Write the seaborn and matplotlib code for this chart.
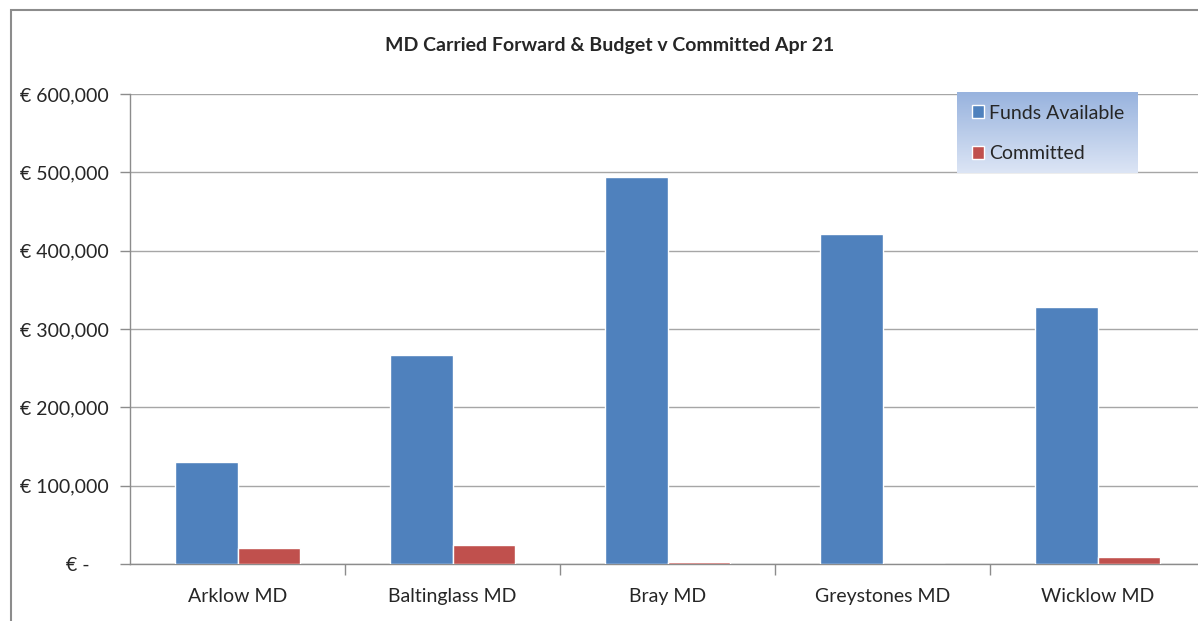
import seaborn as sns
import matplotlib.pyplot as plt
import numpy as np
import pandas as pd
from matplotlib.patches import Rectangle
from matplotlib.colors import LinearSegmentedColormap

districts = ['Arklow MD', 'Baltinglass MD', 'Bray MD', 'Greystones MD', 'Wicklow MD']
funds_available = [130200, 266800, 494000, 421300, 328000]
committed = [20400, 24300, 3000, 0, 8500]
series = ['Funds Available', 'Committed']

df = pd.DataFrame({
    'district': districts * 2,
    'series': [series[0]] * 5 + [series[1]] * 5,
    'value': funds_available + committed,
})

sns.set_style('white')
plt.rcParams['font.family'] = ['Lato', 'DejaVu Sans']

fig = plt.figure(figsize=(11.98, 6.21), dpi=100)
ax = fig.add_axes([130 / 1198, 57 / 621, 1075 / 1198, 470 / 621])

sns.barplot(data=df, x='district', y='value', hue='series',
            palette=['#4f81bd', '#c0504d'], width=0.58, ax=ax,
            saturation=1, errorbar=None, zorder=3)

ax.set_ylim(0, 600000)
ax.set_xlim(-0.5, 4.5)
ax.set_yticks(range(0, 600001, 100000))
ax.set_yticklabels(['€ -    '] + ['€ {:,.0f}'.format(v) for v in range(100000, 600001, 100000)],
                   fontsize=14)
ax.set_xticklabels(districts, fontsize=14)
ax.tick_params(axis='x', length=0, pad=17)
ax.set_xticks([0.5, 1.5, 2.5, 3.5], minor=True)
ax.tick_params(axis='x', which='minor', length=8, color='#8c8c8c', width=1, direction='out', bottom=True)
ax.tick_params(axis='y', length=7, color='#8c8c8c', width=1, direction='out', left=True, pad=8)
ax.grid(axis='y', color='#a6a6a6', linewidth=1, zorder=0)
ax.set_xlabel('')
ax.set_ylabel('')
sns.despine(ax=ax, top=True, right=True)
for s in ['left', 'bottom']:
    ax.spines[s].set_color('#8c8c8c')
    ax.spines[s].set_linewidth(1)

handles, labels = ax.get_legend_handles_labels()
ax.get_legend().remove()

# gradient background behind the legend
gax = fig.add_axes([957 / 1198, 1 - 173 / 621, 181 / 1198, 81 / 621])
cmap = LinearSegmentedColormap.from_list('leg', ['#98b3de', '#dce5f5'])
gax.imshow(np.linspace(0, 1, 100).reshape(-1, 1), aspect='auto', cmap=cmap)
gax.axis('off')

fig.legend(handles, labels, loc='upper left', bbox_to_anchor=(956 / 1198, 1 - 89 / 621),
           fontsize=14, frameon=False, handlelength=0.65, handleheight=0.65,
           handletextpad=0.25, labelspacing=1.2, borderpad=0.3)

fig.text(610 / 1198, 1 - 45 / 621, 'MD Carried Forward & Budget v Committed Apr 21',
         ha='center', va='center', fontsize=14, fontweight='bold')

fig.patches.append(Rectangle((11 / 1198, -0.1), 1.2, 1.1 - 10 / 621,
                             transform=fig.transFigure, fill=False,
                             edgecolor='#8c8c8c', linewidth=1.5))

fig.savefig('out.png', dpi=100)
